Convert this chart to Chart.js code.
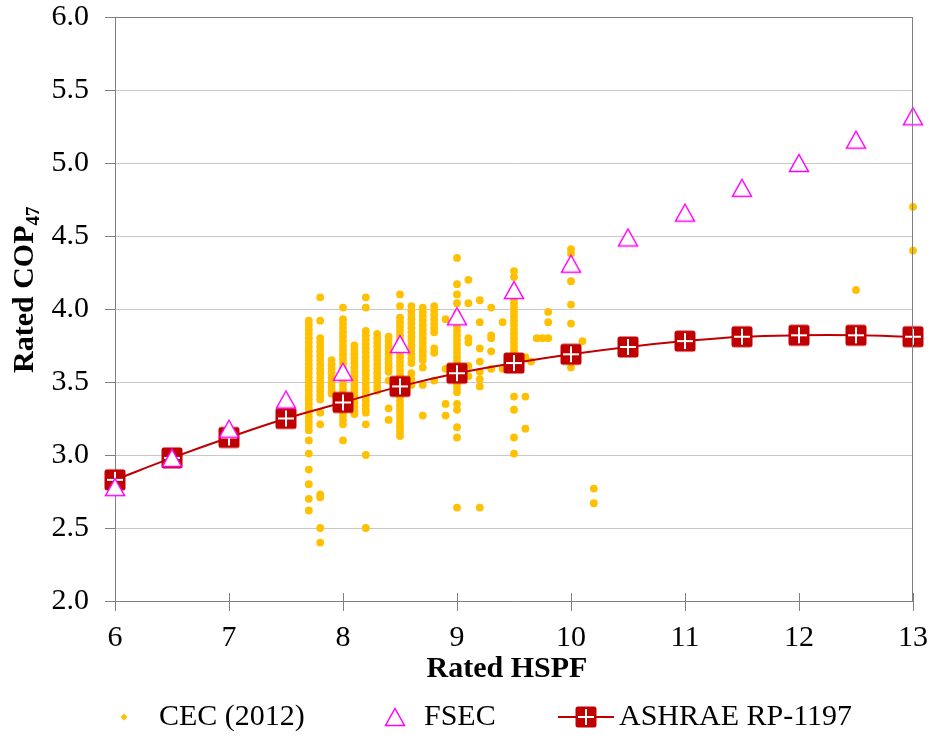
<!DOCTYPE html>
<html><head><meta charset="utf-8">
<script src="https://cdn.jsdelivr.net/npm/chart.js@4/dist/chart.umd.min.js"></script>
<style>html,body{margin:0;padding:0;background:#fff;} canvas{display:block;}</style>
</head><body>
<canvas id="c" width="932" height="742"></canvas>
<script>
// ---- data ----
const hspfGrid = [6, 6.5, 7, 7.5, 8, 8.5, 9, 9.5, 10, 10.5, 11, 11.5, 12, 12.5, 13];
const fsecCop = [2.78, 2.98, 3.18, 3.38, 3.57, 3.76, 3.95, 4.13, 4.31, 4.49, 4.66, 4.83, 5.00, 5.16, 5.32];
const ashraeCop = [2.83, 2.98, 3.12, 3.25, 3.36, 3.47, 3.56, 3.63, 3.69, 3.74, 3.78, 3.81, 3.82, 3.82, 3.81];

const cecHspf = [7.7, 7.8, 7.9, 8.0, 8.1, 8.2, 8.3, 8.4, 8.5, 8.6, 8.7, 8.8, 8.9, 9.0, 9.1, 9.2, 9.3, 9.4, 9.5, 9.6, 9.65, 9.7, 9.75, 9.8, 10.0, 10.1, 10.2, 12.0, 12.5, 13.0];
const cecCop = [
  [3.92,3.89,3.86,3.83,3.80,3.77,3.74,3.71,3.68,3.65,3.62,3.59,3.56,3.53,3.50,3.47,3.44,3.41,3.38,3.35,3.32,3.29,3.26,3.23,3.20,3.17,3.10,3.01,2.90,2.80,2.70,2.62],
  [4.08,3.92,3.80,3.77,3.74,3.71,3.68,3.65,3.62,3.59,3.56,3.53,3.50,3.47,3.44,3.41,3.38,3.29,3.21,2.73,2.71,2.50,2.40],
  [3.65,3.62,3.59,3.56,3.53,3.50,3.47,3.44,3.42],
  [4.01,3.93,3.90,3.87,3.84,3.81,3.78,3.75,3.72,3.69,3.66,3.63,3.60,3.57,3.54,3.51,3.48,3.45,3.42,3.39,3.36,3.33,3.30,3.27,3.24,3.21,3.10],
  [3.75,3.72,3.69,3.66,3.63,3.60,3.57,3.54,3.51,3.48,3.45,3.42,3.39,3.36,3.33,3.30,3.28],
  [4.08,4.01,3.85,3.82,3.79,3.76,3.73,3.70,3.67,3.64,3.61,3.58,3.55,3.52,3.49,3.46,3.43,3.40,3.37,3.34,3.31,3.29,3.21,3.00,2.50],
  [3.83,3.80,3.77,3.74,3.71,3.68,3.65,3.62,3.59,3.56,3.53,3.50,3.47,3.44],
  [3.81,3.78,3.75,3.72,3.69,3.66,3.63,3.60,3.57,3.51,3.32,3.24],
  [4.10,4.02,3.94,3.91,3.88,3.85,3.82,3.79,3.76,3.73,3.70,3.67,3.64,3.61,3.58,3.55,3.52,3.49,3.46,3.43,3.40,3.37,3.34,3.31,3.28,3.25,3.22,3.19,3.16,3.13],
  [4.02,3.99,3.96,3.93,3.90,3.87,3.84,3.81,3.78,3.75,3.72,3.69,3.66,3.63,3.56,3.52,3.48],
  [4.01,3.98,3.95,3.92,3.89,3.86,3.83,3.80,3.77,3.74,3.71,3.68,3.65,3.60,3.48,3.27],
  [4.02,3.99,3.96,3.93,3.90,3.87,3.84,3.73,3.70,3.51],
  [3.93,3.59,3.35,3.27],
  [4.35,4.17,4.10,4.04,3.97,3.94,3.91,3.88,3.85,3.82,3.79,3.76,3.73,3.70,3.67,3.64,3.61,3.58,3.55,3.52,3.49,3.46,3.43,3.35,3.31,3.19,3.12,2.64],
  [4.20,4.04,3.80,3.77,3.61,3.54],
  [4.06,3.91,3.73,3.64,3.57,3.52,3.47,2.64],
  [4.01,3.82,3.80,3.71,3.59],
  [3.91,3.59],
  [4.26,4.22,4.13,4.10,4.07,4.04,4.01,3.98,3.95,3.92,3.89,3.86,3.83,3.80,3.77,3.74,3.71,3.68,3.65,3.62,3.59,3.40,3.31,3.12,3.01],
  [3.67,3.40,3.18],
  [3.64],
  [3.80],
  [3.80],
  [3.98,3.91,3.80],
  [4.41,4.38,4.19,4.03,3.90,3.60],
  [3.78],
  [2.77,2.67],
  [3.86],
  [4.13],
  [4.70,4.40]
];

const xTickValues = [6, 7, 8, 9, 10, 11, 12, 13];
const yTickValues = [2.0, 2.5, 3.0, 3.5, 4.0, 4.5, 5.0, 5.5, 6.0];
const seriesNames = ['CEC (2012)', 'FSEC', 'ASHRAE RP-1197'];
const xTitleText = 'Rated HSPF';
const yTitleText = 'Rated COP';
const yTitleSub = '47';

// ---- marker images ----
function makeTriangle() {
  const c = document.createElement('canvas'); c.width = 24; c.height = 22;
  const g = c.getContext('2d');
  g.beginPath(); g.moveTo(12, 2.5); g.lineTo(21.5, 19.5); g.lineTo(2.5, 19.5); g.closePath();
  g.fillStyle = '#ffffff'; g.fill();
  g.strokeStyle = '#FF00FF'; g.lineWidth = 1.5; g.stroke();
  return c;
}
function makeSquare() {
  const c = document.createElement('canvas'); c.width = 24; c.height = 24;
  const g = c.getContext('2d');
  g.beginPath();
  if (g.roundRect) g.roundRect(1.5, 1.5, 21, 21, 2.5); else g.rect(1.5, 1.5, 21, 21);
  g.fillStyle = '#C00000'; g.fill();
  g.fillStyle = '#ffffff';
  g.fillRect(11, 4, 2, 16);
  g.fillRect(4, 11, 16, 2);
  return c;
}
const triImg = makeTriangle();
const sqImg = makeSquare();

const FONT = "'Liberation Serif', 'Times New Roman', serif";

const cecPoints = cecHspf.flatMap((x, i) => cecCop[i].map(y => ({ x, y })));
const fsecPoints = hspfGrid.map((x, i) => ({ x, y: fsecCop[i] }));
const ashraePoints = hspfGrid.map((x, i) => ({ x, y: ashraeCop[i] }));

function noPad(s) { s.paddingTop = 0; s.paddingBottom = 0; s.paddingLeft = 0; s.paddingRight = 0; }

const decorPlugin = {
  id: 'decor',
  afterDraw(chart) {
    const ctx = chart.ctx;
    const a = chart.chartArea;
    const xs = chart.scales.x;
    ctx.save();
    // plot border
    ctx.strokeStyle = '#808080'; ctx.lineWidth = 1;
    ctx.beginPath();
    ctx.moveTo(a.left, a.top + 0.5); ctx.lineTo(a.right, a.top + 0.5);
    ctx.moveTo(a.right - 0.5, a.top); ctx.lineTo(a.right - 0.5, a.bottom);
    ctx.stroke();
    // x ticks crossing above axis
    ctx.beginPath();
    xTickValues.forEach(v => {
      const px = Math.round(xs.getPixelForValue(v)) + 0.5;
      ctx.moveTo(px, a.bottom - 8); ctx.lineTo(px, a.bottom);
    });
    ctx.stroke();

    ctx.fillStyle = '#000';
    // x title
    ctx.font = 'bold 30px ' + FONT;
    ctx.textAlign = 'center'; ctx.textBaseline = 'middle';
    ctx.fillText(xTitleText, 507, 669);
    // y title rotated with subscript
    ctx.save();
    ctx.translate(33, 373);
    ctx.rotate(-Math.PI / 2);
    ctx.textAlign = 'left'; ctx.textBaseline = 'alphabetic';
    ctx.font = 'bold 30px ' + FONT;
    ctx.fillText(yTitleText, 0, 0);
    const w = ctx.measureText(yTitleText).width;
    ctx.font = 'bold 19px ' + FONT;
    ctx.fillText(yTitleSub, w, 6);
    ctx.restore();

    // legend
    const ly = 717;
    ctx.font = '30px ' + FONT;
    ctx.textAlign = 'left'; ctx.textBaseline = 'middle';
    // CEC
    ctx.fillStyle = '#FFC000';
    ctx.beginPath();
    ctx.moveTo(124, ly - 3.5); ctx.lineTo(127.5, ly); ctx.lineTo(124, ly + 3.5); ctx.lineTo(120.5, ly); ctx.closePath();
    ctx.fill();
    ctx.fillStyle = '#000';
    ctx.fillText(seriesNames[0], 159, ly);
    // FSEC
    ctx.drawImage(triImg, 395 - 12, ly - 11);
    ctx.fillText(seriesNames[1], 424, ly);
    // ASHRAE
    ctx.strokeStyle = '#C00000'; ctx.lineWidth = 2;
    ctx.beginPath(); ctx.moveTo(558, ly); ctx.lineTo(614, ly); ctx.stroke();
    ctx.drawImage(sqImg, 586 - 12, ly - 12);
    ctx.fillText(seriesNames[2], 619, ly);
    ctx.restore();
  }
};

new Chart(document.getElementById('c'), {
  type: 'scatter',
  data: {
    datasets: [
      {
        label: seriesNames[1], data: fsecPoints, order: 0,
        pointStyle: triImg, pointRadius: 10, showLine: false, clip: false
      },
      {
        label: seriesNames[2], data: ashraePoints, order: 1,
        pointStyle: sqImg, pointRadius: 11, showLine: true,
        borderColor: '#C00000', borderWidth: 2, tension: 0.4, clip: false
      },
      {
        label: seriesNames[0], data: cecPoints, order: 2,
        pointStyle: 'circle', pointRadius: 3.9, pointBorderWidth: 0,
        backgroundColor: '#FFC000', borderColor: '#FFC000', showLine: false, clip: false
      }
    ]
  },
  options: {
    responsive: false,
    animation: false,
    events: [],
    layout: { padding: { left: 0, top: 17, right: 19, bottom: 0 } },
    plugins: { legend: { display: false }, tooltip: { enabled: false }, title: { display: false } },
    scales: {
      x: {
        type: 'linear', min: 6, max: 13,
        afterBuildTicks: s => { s.ticks = xTickValues.map(v => ({ value: v })); },
        afterFit: s => { s.height = 141; noPad(s); },
        ticks: { font: { family: FONT, size: 30, lineHeight: 1 }, color: '#000', padding: 12, maxRotation: 0 },
        grid: { drawOnChartArea: false, drawTicks: true, tickLength: 10, tickColor: '#808080' },
        border: { color: '#808080', width: 1 },
        title: { display: false }
      },
      y: {
        type: 'linear', min: 2, max: 6,
        afterBuildTicks: s => { s.ticks = yTickValues.map(v => ({ value: v })); },
        afterFit: s => { s.width = 115; noPad(s); },
        ticks: { font: { family: FONT, size: 30, lineHeight: 1 }, color: '#000', padding: 16,
                 callback: v => Number(v).toFixed(1) },
        grid: { color: '#c8c8c8', tickLength: 10, tickColor: '#808080' },
        border: { color: '#808080', width: 1 },
        title: { display: false }
      }
    }
  },
  plugins: [decorPlugin]
});
</script>
</body></html>
